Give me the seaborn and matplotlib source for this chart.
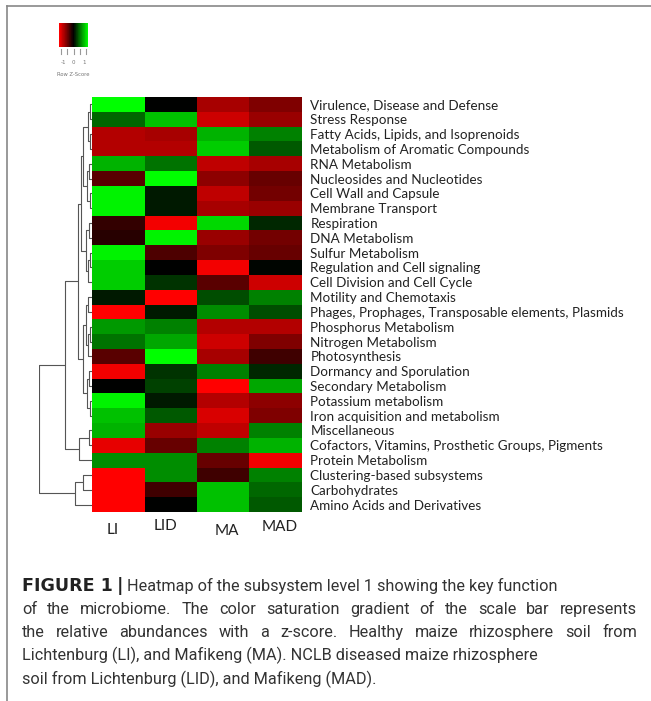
import numpy as np
import pandas as pd
import matplotlib
matplotlib.use("Agg")
import matplotlib.pyplot as plt
import seaborn as sns
from matplotlib.colors import LinearSegmentedColormap
from matplotlib.lines import Line2D
from matplotlib.transforms import ScaledTranslation


# данные: z-score по строкам (красный = -1, черный = 0, зеленый = +1)
samples = ["LI", "LID", "MA", "MAD"]
subsystems = [
    "Virulence, Disease and Defense",
    "Stress Response",
    "Fatty Acids, Lipids, and Isoprenoids",
    "Metabolism of Aromatic Compounds",
    "RNA Metabolism",
    "Nucleosides and Nucleotides",
    "Cell Wall and Capsule",
    "Membrane Transport",
    "Respiration",
    "DNA Metabolism",
    "Sulfur Metabolism",
    "Regulation and Cell signaling",
    "Cell Division and Cell Cycle",
    "Motility and Chemotaxis",
    "Phages, Prophages, Transposable elements, Plasmids",
    "Phosphorus Metabolism",
    "Nitrogen Metabolism",
    "Photosynthesis",
    "Dormancy and Sporulation",
    "Secondary Metabolism",
    "Potassium metabolism",
    "Iron acquisition and metabolism",
    "Miscellaneous",
    "Cofactors, Vitamins, Prosthetic Groups, Pigments",
    "Protein Metabolism",
    "Clustering-based subsystems",
    "Carbohydrates",
    "Amino Acids and Derivatives",
]
z_LI = [1.0, 0.4, -0.7, -0.7, 0.7, -0.35, 0.95, 0.95, -0.2, -0.15, 0.95, 0.8, 0.8, 0.1,
        -1.0, 0.6, 0.45, -0.35, -0.95, 0.0, 0.95, 0.75, 0.7, -0.9, 0.55, -1.0, -1.0, -1.0]
z_LID = [0.0, 0.75, -0.65, -0.7, 0.45, 1.0, 0.1, 0.1, -0.95, 0.95, -0.3, 0.0, 0.2, -1.0,
         0.1, 0.5, 0.65, 1.0, 0.2, 0.25, 0.1, 0.35, -0.6, -0.4, 0.55, 0.55, -0.25, 0.0]
z_MA = [-0.65, -0.8, 0.7, 0.8, -0.75, -0.55, -0.75, -0.65, 0.85, -0.6, -0.5, -0.95, -0.35, 0.3,
        0.55, -0.7, -0.8, -0.65, 0.5, -1.0, -0.7, -0.85, -0.75, 0.5, -0.4, -0.25, 0.75, 0.75]
z_MAD = [-0.5, -0.6, 0.5, 0.35, -0.65, -0.4, -0.45, -0.6, 0.15, -0.45, -0.4, 0.02, -0.8, 0.5,
         0.3, -0.7, -0.5, -0.25, 0.15, 0.65, -0.55, -0.5, 0.5, 0.7, -0.95, 0.5, 0.4, 0.35]

# дендрограмма строк: (узел1, узел2, высота); листья 0..27, кластеры 28..
row_merges = [
    (0, 1, 0.04), (2, 3, 0.04), (28, 29, 0.08), (4, 5, 0.05), (6, 7, 0.04),
    (31, 32, 0.10), (30, 33, 0.17), (8, 9, 0.06), (10, 11, 0.04), (36, 12, 0.07),
    (35, 37, 0.12), (13, 14, 0.08), (15, 16, 0.04), (40, 17, 0.08), (39, 41, 0.12),
    (18, 19, 0.06), (20, 21, 0.04), (43, 44, 0.10), (42, 45, 0.17), (34, 38, 0.20),
    (47, 46, 0.26), (22, 23, 0.05), (49, 24, 0.24), (48, 50, 0.51),
    (25, 26, 0.17), (52, 27, 0.32), (51, 53, 1.0),
]

caption_head = "FIGURE 1"
caption_lines = [
    "Heatmap of the subsystem level 1 showing the key function",
    "of the microbiome. The color saturation gradient of the scale bar represents",
    "the relative abundances with a z-score. Healthy maize rhizosphere soil from",
    "Lichtenburg (LI), and Mafikeng (MA). NCLB diseased maize rhizosphere",
    "soil from Lichtenburg (LID), and Mafikeng (MAD).",
]
justified = [False, True, True, False, False]

W, H = 651, 701
fig = plt.figure(figsize=(W / 100, H / 100), dpi=100)


def px(x0, y0, x1, y1):
    return [x0 / W, 1 - y1 / H, (x1 - x0) / W, (y1 - y0) / H]


cmap = LinearSegmentedColormap.from_list("rg", ["#ff0000", "#000000", "#00ff00"])
label_font = "Lato"

df = pd.DataFrame({"LI": z_LI, "LID": z_LID, "MA": z_MA, "MAD": z_MAD}, index=subsystems)

ax = fig.add_axes(px(92, 97, 302, 512))
sns.heatmap(df[samples], ax=ax, cmap=cmap, vmin=-1, vmax=1, cbar=False, linewidths=0)
ax.yaxis.tick_right()
ax.set_yticks(np.arange(len(subsystems)) + 0.5)
ax.set_yticklabels(subsystems, rotation=0, fontsize=9.7, family=label_font, color="#222222")
ax.set_xticklabels(samples, rotation=0, fontsize=11, family=label_font, color="#222222")
ax.tick_params(length=0, pad=6)
ax.tick_params(axis="x", pad=7)
ax.set_xlabel("")
ax.set_ylabel("")
# подписи столбцов в оригинале чуть сдвинуты
for lbl, (dx, dy) in zip(ax.get_xticklabels(), [(-6, -1), (-5, 3), (4, -2), (4, 2)]):
    lbl.set_transform(lbl.get_transform() + ScaledTranslation(dx / 100, dy / 100, fig.dpi_scale_trans))

# дендрограмма
axd = fig.add_axes(px(39, 97, 92, 512))
n = len(subsystems)
node_y = {i: i + 0.5 for i in range(n)}
node_h = {i: 0.0 for i in range(n)}
for k, (a, b, h) in enumerate(row_merges):
    ya, yb = node_y[a], node_y[b]
    axd.plot([node_h[a], h, h, node_h[b]], [ya, ya, yb, yb], color="#555555", lw=0.8,
             solid_capstyle="butt")
    node_y[n + k] = (ya + yb) / 2
    node_h[n + k] = h
axd.set_xlim(1.0, 0)
axd.set_ylim(n, 0)
axd.axis("off")

# цветовая шкала
axk = fig.add_axes(px(59, 23, 88, 47))
grad = pd.DataFrame([np.linspace(-1, 1, 100)])
sns.heatmap(grad, ax=axk, cmap=cmap, vmin=-1, vmax=1, cbar=False, xticklabels=False,
            yticklabels=False)
for t in np.linspace(0.08, 0.92, 5):
    fig.add_artist(Line2D([(59 + t * 29) / W] * 2, [1 - 49 / H, 1 - 54 / H], color="#999999", lw=0.8))
for lab, t in zip(["-1", "0", "1"], [0.15, 0.5, 0.85]):
    fig.text((59 + t * 29) / W, 1 - 62 / H, lab, fontsize=4, color="#777777",
             ha="center", va="center")
fig.text(73.5 / W, 1 - 75 / H, "Row Z-Score", fontsize=3.8, color="#777777",
         ha="center", va="center")

# рамка
fig.add_artist(Line2D([7 / W, 1], [1 - 6 / H] * 2, color="#888888", lw=1.2))
fig.add_artist(Line2D([7 / W] * 2, [1 - 6 / H, 0], color="#888888", lw=1.2))

# подпись (строки 2-3 выровнены по ширине)
cap_kw = dict(fontsize=11.7, family="Roboto", color="#333333", va="baseline")
bold_kw = dict(fontsize=12.6, family="DejaVu Sans", fontweight="bold", color="#222222",
               va="baseline")
renderer = fig.canvas.get_renderer()
left, right = 22, 637
y0 = 1 - 591 / H
t1 = fig.text(left / W, y0, caption_head, **bold_kw)
x_bar = t1.get_window_extent(renderer).x1 + 4
t2 = fig.text(x_bar / W, y0, "|", **bold_kw)
x_start = t2.get_window_extent(renderer).x1 + 4
for i, (line, just) in enumerate(zip(caption_lines, justified)):
    y = 1 - (591 + i * 23.2) / H
    x0 = x_start if i == 0 else left
    if not just:
        fig.text(x0 / W, y, line, **cap_kw)
        continue
    words = line.split(" ")
    arts = [fig.text(0, y, w, **cap_kw) for w in words]
    widths = [a.get_window_extent(renderer).width for a in arts]
    gap = (right - x0 - sum(widths)) / (len(words) - 1)
    x = x0
    for a, w in zip(arts, widths):
        a.set_x(x / W)
        x += w + gap

fig.savefig("out.png", dpi=100)
